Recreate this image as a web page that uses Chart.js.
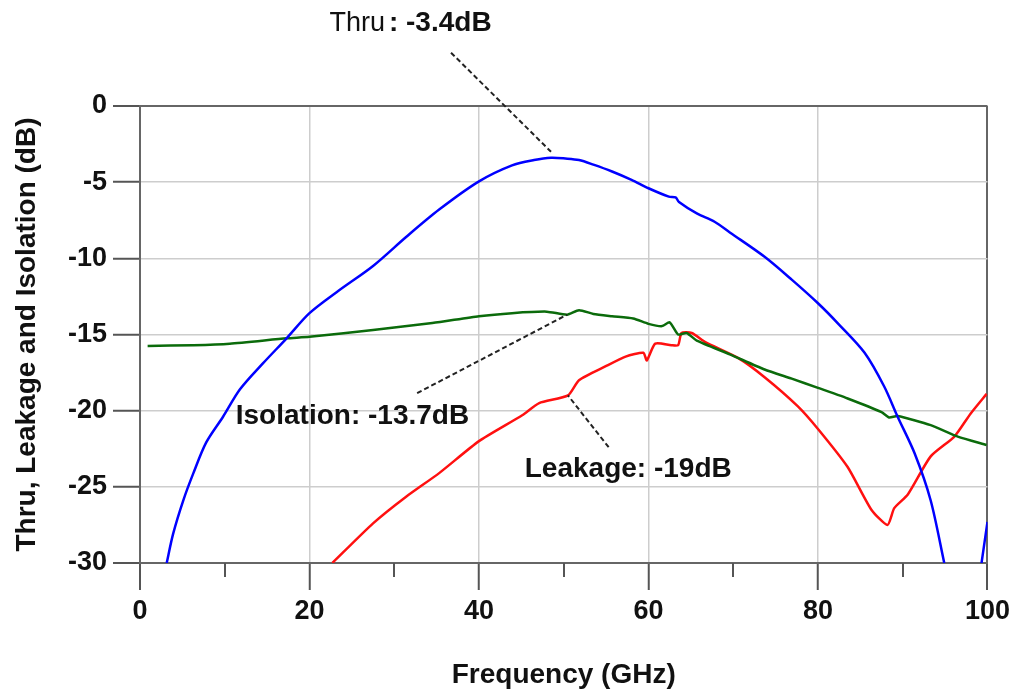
<!DOCTYPE html>
<html>
<head>
<meta charset="utf-8">
<script src="https://cdn.jsdelivr.net/npm/chart.js@4.4.1/dist/chart.umd.min.js"></script>
<style>
  html, body { margin: 0; padding: 0; background: #fff; }
  #wrap { width: 1015px; height: 692px; position: relative; }
</style>
</head>
<body>
<div id="wrap"><canvas id="myChart"></canvas></div>
<script>
// measured S-parameters, frequency in GHz, magnitude in dB
var thruFreq = [3.15, 3.9, 5.1, 6.3, 7.8, 9.8, 11.8, 14.5, 17.3, 20, 23.5, 27.5, 31.4, 35.3, 40, 43.9, 46.5, 48.5, 50.2, 51.8, 53.5, 55.7, 58, 60, 62.4, 63.2, 63.6, 65.7, 67.8, 69.6, 73.7, 76.9, 80, 82.4, 85.5, 87.8, 89.4, 91.4, 93.3, 94.9, 97, 99.3, 100];
var thruDb = [-30, -28.1, -25.9, -24.1, -22.1, -20.4, -18.6, -16.9, -15.25, -13.6, -12.1, -10.5, -8.6, -6.8, -4.95, -3.9, -3.55, -3.4, -3.45, -3.55, -3.85, -4.3, -4.85, -5.4, -5.95, -6.0, -6.3, -7.05, -7.6, -8.3, -9.9, -11.4, -12.95, -14.3, -16.2, -18.4, -20.4, -22.8, -25.9, -30, null, -30, -27.3];

var isoFreq = [0.9, 6.3, 10.6, 17.3, 20, 27.5, 34.5, 40, 43.9, 48, 50.4, 51.8, 53.5, 55.7, 58.2, 60, 61.6, 62.5, 63.5, 64.5, 65.7, 69.6, 73.7, 76.9, 80, 83.5, 87.5, 88.4, 89.4, 93.3, 96.5, 99.9];
var isoDb = [-15.75, -15.7, -15.6, -15.25, -15.15, -14.7, -14.25, -13.8, -13.6, -13.5, -13.7, -13.4, -13.65, -13.8, -13.95, -14.3, -14.45, -14.2, -15.0, -14.9, -15.4, -16.3, -17.3, -17.9, -18.5, -19.2, -20.1, -20.45, -20.35, -20.95, -21.7, -22.25];

var leakFreq = [22.7, 27.5, 31.4, 35.3, 40, 45.1, 47.1, 50.5, 51.8, 54.9, 57.3, 59.4, 59.8, 60.8, 62.7, 63.5, 63.9, 65.1, 66.7, 70.6, 73.7, 77.6, 80, 83.5, 86.3, 88.2, 89, 90.6, 93.3, 96.1, 98, 99.9];
var leakDb = [-30, -27.4, -25.65, -24.1, -22.0, -20.3, -19.5, -19.0, -18.0, -17.1, -16.45, -16.2, -16.7, -15.6, -15.7, -15.7, -14.9, -14.9, -15.5, -16.55, -17.8, -19.7, -21.2, -23.7, -26.5, -27.5, -26.4, -25.5, -23.0, -21.7, -20.2, -18.9];

var xMajorTicks = [0, 20, 40, 60, 80, 100];
var xMinorTicks = [10, 30, 50, 70, 90];
var yTicks = [0, -5, -10, -15, -20, -25, -30];

// callouts: marked point on a curve, where the label text sits (axis units)
var callouts = [
  { name: 'Thru', value: '-3.4dB', at: [48.5, -3.4], from: [36.7, 3.5], text: [22.35, 4.9], gap: 6 },
  { name: 'Isolation', value: '-13.7dB', at: [50.4, -13.7], from: [32.7, -18.85], text: [11.3, -20.9], gap: 0 },
  { name: 'Leakage', value: '-19dB', at: [50.5, -19.0], from: [55.3, -22.4], text: [45.4, -24.35], gap: 0 }
];

var FONT = '"Liberation Sans", Arial, sans-serif';

function pairs(xs, ys) {
  return xs.map(function(x, i) { return { x: x, y: ys[i] }; });
}

var extraDraw = {
  id: 'extraDraw',
  afterDraw: function(chart) {
    var ctx = chart.ctx;
    var xs = chart.scales.x, ys = chart.scales.y;
    var bottom = chart.chartArea.bottom;

    // short minor ticks under the frequency axis
    ctx.save();
    ctx.strokeStyle = '#555';
    ctx.lineWidth = 2;
    xMinorTicks.forEach(function(v) {
      var px = Math.round(xs.getPixelForValue(v));
      ctx.beginPath();
      ctx.moveTo(px, bottom);
      ctx.lineTo(px, bottom + 14);
      ctx.stroke();
    });
    ctx.restore();

    // dashed leaders and the value labels
    callouts.forEach(function(c) {
      var x1 = xs.getPixelForValue(c.from[0]), y1 = ys.getPixelForValue(c.from[1]);
      var x2 = xs.getPixelForValue(c.at[0]), y2 = ys.getPixelForValue(c.at[1]) - c.gap;
      ctx.save();
      ctx.strokeStyle = '#222';
      ctx.lineWidth = 2;
      ctx.setLineDash([5, 3]);
      ctx.beginPath();
      ctx.moveTo(x1, y1);
      ctx.lineTo(x2, y2);
      ctx.stroke();
      ctx.restore();

      var tx = xs.getPixelForValue(c.text[0]), ty = ys.getPixelForValue(c.text[1]);
      ctx.save();
      ctx.fillStyle = '#111';
      ctx.textBaseline = 'alphabetic';
      ctx.textAlign = 'left';
      if (c.name === 'Thru') {
        ctx.font = '27px ' + FONT;
        ctx.fillText(c.name, tx, ty);
        var w = ctx.measureText(c.name).width;
        ctx.font = 'bold 28px ' + FONT;
        ctx.fillText(': ' + c.value, tx + w + 4, ty);
      } else {
        ctx.font = 'bold 28px ' + FONT;
        ctx.fillText(c.name + ': ' + c.value, tx, ty);
      }
      ctx.restore();
    });
  }
};

var ctx = document.getElementById('myChart').getContext('2d');
var chart = new Chart(ctx, {
  type: 'scatter',
  data: {
    datasets: [{
      label: 'Thru',
      data: pairs(thruFreq, thruDb),
      borderColor: '#0000ff',
      borderWidth: 2.5,
      showLine: true,
      spanGaps: false,
      pointRadius: 0,
      tension: 0.3
    }, {
      label: 'Isolation',
      data: pairs(isoFreq, isoDb),
      borderColor: '#0b6b0b',
      borderWidth: 2.5,
      showLine: true,
      pointRadius: 0,
      tension: 0.2
    }, {
      label: 'Leakage',
      data: pairs(leakFreq, leakDb),
      borderColor: '#ff1010',
      borderWidth: 2.5,
      showLine: true,
      pointRadius: 0,
      tension: 0.2
    }]
  },
  options: {
    responsive: true,
    maintainAspectRatio: false,
    animation: false,
    layout: { padding: { left: 0, right: 26, top: 106, bottom: 0 } },
    plugins: {
      legend: { display: false },
      tooltip: { enabled: false }
    },
    scales: {
      x: {
        type: 'linear',
        min: 0,
        max: 100,
        afterFit: function(scale) { scale.height = 129; },
        afterBuildTicks: function(scale) {
          scale.ticks = xMajorTicks.map(function(v) { return { value: v }; });
        },
        border: { display: true, color: '#666', width: 2 },
        grid: {
          color: function(c) {
            return (c.tick && (c.tick.value === 0 || c.tick.value === 100)) ? '#666' : '#cdcdcd';
          },
          lineWidth: function(c) {
            return (c.tick && (c.tick.value === 0 || c.tick.value === 100)) ? 2 : 1.5;
          },
          drawTicks: true,
          tickLength: 27,
          tickColor: '#555',
          tickWidth: 2
        },
        ticks: {
          color: '#111',
          padding: 5,
          maxRotation: 0,
          font: { family: FONT, size: 27, weight: 'bold' }
        },
        title: {
          display: true,
          text: 'Frequency (GHz)',
          color: '#111',
          padding: { top: 4, bottom: 0 },
          font: { family: FONT, size: 28, weight: 'bold' }
        }
      },
      y: {
        type: 'linear',
        min: -30,
        max: 0,
        afterFit: function(scale) { scale.width = 140; },
        afterBuildTicks: function(scale) {
          scale.ticks = yTicks.map(function(v) { return { value: v }; });
        },
        border: { display: true, color: '#666', width: 2 },
        grid: {
          color: function(c) {
            return (c.tick && (c.tick.value === 0 || c.tick.value === -30)) ? '#666' : '#cdcdcd';
          },
          lineWidth: function(c) {
            return (c.tick && (c.tick.value === 0 || c.tick.value === -30)) ? 2 : 1.5;
          },
          drawTicks: true,
          tickLength: 27,
          tickColor: '#555',
          tickWidth: 2
        },
        ticks: {
          color: '#111',
          padding: 6,
          font: { family: FONT, size: 27, weight: 'bold' }
        },
        title: {
          display: true,
          text: 'Thru, Leakage and Isolation (dB)',
          color: '#111',
          padding: { top: 10, bottom: 0 },
          font: { family: FONT, size: 28, weight: 'bold' }
        }
      }
    }
  },
  plugins: [extraDraw]
});
</script>
</body>
</html>
